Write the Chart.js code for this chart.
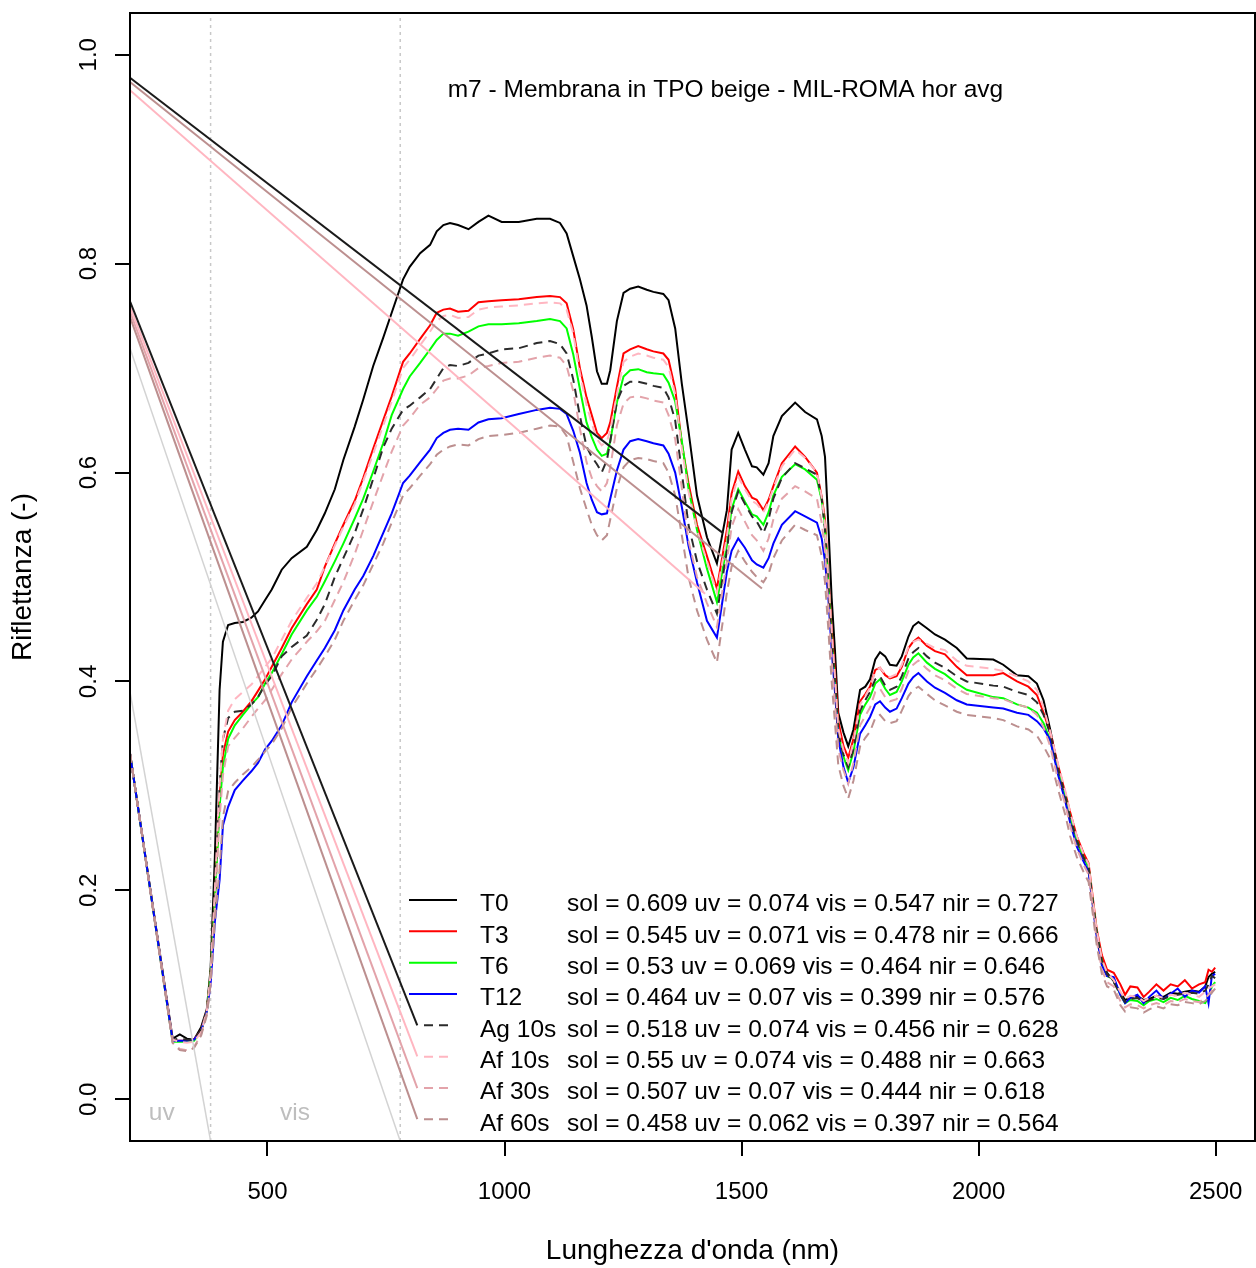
<!DOCTYPE html>
<html>
<head>
<meta charset="utf-8">
<title>m7 - Membrana in TPO beige</title>
<script src="https://cdn.jsdelivr.net/npm/chart.js@4.4.0/dist/chart.umd.min.js"></script>
<style>
  html, body { margin: 0; padding: 0; background: #fff; }
  #wrap { width: 1256px; height: 1268px; }
</style>
</head>
<body>
<div id="wrap"><canvas id="spectra" width="1256" height="1268"></canvas></div>
<script>
const FONT = '"Liberation Sans", Arial, Helvetica, sans-serif';

// wavelength grid (nm) shared by all curves
const wavelength = [
  210, 300, 315, 330, 345, 360, 372, 380, 389, 399,
  406, 417, 431, 448, 466, 480, 495, 509, 530, 551,
  583, 604, 621, 642, 660, 684, 702, 723, 744, 762,
  786, 800, 822, 843, 857, 871, 885, 902, 924, 945,
  966, 994, 1030, 1068, 1096, 1117, 1131, 1145, 1159, 1173,
  1184, 1195, 1205, 1216, 1223, 1237, 1251, 1265, 1282, 1300,
  1314, 1335, 1346, 1360, 1374, 1388, 1406, 1427, 1448, 1469,
  1479, 1493, 1507, 1522, 1532, 1546, 1557, 1567, 1585, 1613,
  1634, 1659, 1669, 1676, 1683, 1690, 1697, 1704, 1715, 1725,
  1736, 1750, 1761, 1771, 1782, 1792, 1803, 1813, 1827, 1838,
  1852, 1862, 1873, 1891, 1908, 1929, 1954, 1975, 2031, 2052,
  2081, 2105, 2123, 2137, 2151, 2168, 2183, 2193, 2207, 2221,
  2232, 2239, 2249, 2260, 2271, 2285, 2299, 2309, 2320, 2335,
  2348, 2360, 2375, 2390, 2405, 2420, 2435, 2450, 2465, 2478,
  2485, 2492, 2499
];

const t0 = [
  0.331, 0.058, 0.062, 0.058, 0.057, 0.069, 0.086, 0.125, 0.232, 0.392,
  0.438, 0.454, 0.456, 0.457, 0.461, 0.467, 0.478, 0.488, 0.507, 0.518,
  0.529, 0.545, 0.561, 0.584, 0.612, 0.644, 0.670, 0.702, 0.729, 0.753,
  0.785, 0.797, 0.810, 0.818, 0.831, 0.837, 0.839, 0.837, 0.833, 0.840,
  0.846, 0.840, 0.840, 0.843, 0.843, 0.839, 0.829, 0.807, 0.785, 0.760,
  0.730, 0.697, 0.685, 0.685, 0.698, 0.745, 0.772, 0.776, 0.778, 0.775,
  0.773, 0.771, 0.765, 0.738, 0.685, 0.640, 0.578, 0.538, 0.513, 0.564,
  0.622, 0.638, 0.622, 0.606, 0.605, 0.598, 0.609, 0.635, 0.654, 0.667,
  0.658, 0.651, 0.635, 0.615, 0.550, 0.480, 0.430, 0.370, 0.351, 0.338,
  0.354, 0.392, 0.395, 0.402, 0.421, 0.428, 0.424, 0.416, 0.415, 0.424,
  0.443, 0.453, 0.457, 0.451, 0.445, 0.440, 0.432, 0.422, 0.421, 0.416,
  0.406, 0.405, 0.398, 0.382, 0.354, 0.315, 0.290, 0.271, 0.248, 0.232,
  0.223, 0.194, 0.159, 0.134, 0.121, 0.113, 0.102, 0.095, 0.097, 0.099,
  0.095, 0.096, 0.099, 0.098, 0.102, 0.101, 0.103, 0.104, 0.103, 0.108,
  0.117, 0.120, 0.122
];

const t3 = [
  0.331, 0.056, 0.056, 0.056, 0.057, 0.066, 0.085, 0.120, 0.190, 0.290,
  0.330, 0.352, 0.363, 0.371, 0.381, 0.391, 0.402, 0.414, 0.432, 0.451,
  0.474, 0.488, 0.510, 0.532, 0.550, 0.573, 0.595, 0.623, 0.650, 0.673,
  0.706, 0.714, 0.728, 0.741, 0.753, 0.756, 0.757, 0.754, 0.755, 0.763,
  0.764, 0.765, 0.766, 0.768, 0.769, 0.768, 0.762, 0.737, 0.700, 0.672,
  0.655, 0.638, 0.633, 0.638, 0.648, 0.682, 0.714, 0.718, 0.721, 0.718,
  0.716, 0.714, 0.708, 0.680, 0.628, 0.590, 0.550, 0.520, 0.489, 0.545,
  0.580, 0.601, 0.587, 0.576, 0.574, 0.564, 0.574, 0.587, 0.609, 0.625,
  0.615, 0.600, 0.577, 0.555, 0.500, 0.450, 0.410, 0.362, 0.338, 0.327,
  0.345, 0.381, 0.388, 0.395, 0.411, 0.413, 0.406, 0.403, 0.405, 0.414,
  0.432, 0.438, 0.442, 0.434, 0.429, 0.426, 0.414, 0.406, 0.406, 0.408,
  0.400, 0.395, 0.387, 0.370, 0.351, 0.319, 0.293, 0.275, 0.252, 0.236,
  0.226, 0.200, 0.163, 0.138, 0.124, 0.121, 0.110, 0.100, 0.108, 0.107,
  0.098, 0.103, 0.110, 0.104, 0.110, 0.108, 0.114, 0.106, 0.110, 0.112,
  0.124, 0.122, 0.126
];

const t6 = [
  0.331, 0.055, 0.055, 0.055, 0.056, 0.065, 0.084, 0.120, 0.190, 0.280,
  0.318, 0.345, 0.358, 0.368, 0.378, 0.385, 0.398, 0.408, 0.426, 0.445,
  0.468, 0.481, 0.496, 0.515, 0.532, 0.556, 0.575, 0.601, 0.628, 0.655,
  0.680, 0.692, 0.705, 0.718, 0.727, 0.733, 0.733, 0.731, 0.735, 0.740,
  0.742, 0.742, 0.743, 0.745, 0.747, 0.745, 0.738, 0.713, 0.680, 0.648,
  0.634, 0.622, 0.616, 0.618, 0.630, 0.667, 0.692, 0.698, 0.699, 0.696,
  0.695, 0.694, 0.686, 0.668, 0.630, 0.585, 0.545, 0.508, 0.476, 0.530,
  0.565, 0.584, 0.572, 0.560, 0.558, 0.550, 0.562, 0.578, 0.596, 0.608,
  0.603, 0.593, 0.574, 0.548, 0.495, 0.440, 0.400, 0.350, 0.328, 0.315,
  0.333, 0.368, 0.378, 0.385, 0.398, 0.402, 0.393, 0.387, 0.390, 0.400,
  0.416, 0.423, 0.427, 0.418, 0.412, 0.407, 0.398, 0.392, 0.385, 0.384,
  0.378, 0.375, 0.370, 0.360, 0.344, 0.313, 0.290, 0.270, 0.248, 0.232,
  0.222, 0.196, 0.160, 0.132, 0.118, 0.115, 0.100, 0.092, 0.095, 0.094,
  0.090, 0.094, 0.096, 0.093, 0.097, 0.095, 0.099, 0.096, 0.094, 0.092,
  0.098, 0.108, 0.112
];

const t12 = [
  0.331, 0.056, 0.056, 0.056, 0.057, 0.065, 0.084, 0.110, 0.170, 0.210,
  0.262, 0.280, 0.296, 0.305, 0.314, 0.322, 0.335, 0.343, 0.358, 0.380,
  0.405, 0.420, 0.432, 0.449, 0.468, 0.488, 0.501, 0.520, 0.542, 0.561,
  0.590, 0.597, 0.610, 0.622, 0.633, 0.638, 0.641, 0.642, 0.641, 0.648,
  0.651, 0.652, 0.656, 0.660, 0.662, 0.661, 0.656, 0.640, 0.619, 0.590,
  0.574, 0.562, 0.560, 0.561, 0.575, 0.602, 0.622, 0.630, 0.632, 0.630,
  0.628, 0.626, 0.618, 0.600, 0.567, 0.530, 0.495, 0.458, 0.442, 0.505,
  0.525, 0.537, 0.528, 0.516, 0.512, 0.509, 0.518, 0.532, 0.550, 0.563,
  0.558, 0.552, 0.537, 0.515, 0.480, 0.430, 0.390, 0.345, 0.318, 0.303,
  0.318, 0.350, 0.358, 0.366, 0.378, 0.381, 0.375, 0.371, 0.374, 0.384,
  0.398, 0.404, 0.408, 0.400, 0.394, 0.389, 0.382, 0.378, 0.375, 0.374,
  0.370, 0.368, 0.362, 0.355, 0.344, 0.310, 0.285, 0.265, 0.242, 0.228,
  0.218, 0.192, 0.156, 0.128, 0.118, 0.117, 0.100, 0.092, 0.097, 0.100,
  0.092, 0.098, 0.104, 0.096, 0.101, 0.106, 0.098, 0.104, 0.102, 0.108,
  0.092, 0.118, 0.120
];

const ag10 = [
  0.331, 0.057, 0.058, 0.057, 0.057, 0.066, 0.085, 0.120, 0.190, 0.300,
  0.345, 0.365, 0.371, 0.372, 0.378, 0.385, 0.397, 0.405, 0.424, 0.433,
  0.444, 0.459, 0.474, 0.500, 0.518, 0.542, 0.565, 0.594, 0.624, 0.642,
  0.660, 0.664, 0.672, 0.680, 0.690, 0.700, 0.703, 0.702, 0.705, 0.712,
  0.714, 0.718, 0.719, 0.724, 0.726, 0.723, 0.714, 0.689, 0.654, 0.625,
  0.615, 0.608, 0.600, 0.612, 0.630, 0.668, 0.683, 0.687, 0.687, 0.685,
  0.683, 0.681, 0.672, 0.650, 0.600, 0.550, 0.515, 0.488, 0.465, 0.525,
  0.562, 0.582, 0.570, 0.558, 0.553, 0.542, 0.555, 0.575, 0.595, 0.609,
  0.604, 0.598, 0.575, 0.545, 0.490, 0.440, 0.400, 0.350, 0.330, 0.318,
  0.335, 0.372, 0.382, 0.390, 0.402, 0.405, 0.396, 0.392, 0.395, 0.405,
  0.422, 0.428, 0.432, 0.424, 0.418, 0.413, 0.405, 0.400, 0.396, 0.395,
  0.390, 0.387, 0.380, 0.368, 0.350, 0.316, 0.290, 0.270, 0.248, 0.232,
  0.222, 0.196, 0.160, 0.132, 0.120, 0.112, 0.100, 0.093, 0.096, 0.097,
  0.093, 0.095, 0.097, 0.096, 0.099, 0.100, 0.101, 0.102, 0.101, 0.104,
  0.110, 0.118, 0.116
];

const af10 = [
  0.331, 0.057, 0.055, 0.054, 0.055, 0.064, 0.084, 0.120, 0.200, 0.300,
  0.345, 0.372, 0.383, 0.390, 0.397, 0.405, 0.414, 0.422, 0.440, 0.458,
  0.480, 0.494, 0.510, 0.530, 0.548, 0.570, 0.592, 0.618, 0.645, 0.668,
  0.700, 0.708, 0.722, 0.735, 0.745, 0.750, 0.751, 0.748, 0.749, 0.756,
  0.758, 0.759, 0.760, 0.762, 0.763, 0.762, 0.756, 0.733, 0.695, 0.665,
  0.647, 0.632, 0.626, 0.630, 0.640, 0.675, 0.706, 0.711, 0.714, 0.712,
  0.710, 0.708, 0.701, 0.675, 0.623, 0.582, 0.545, 0.515, 0.485, 0.538,
  0.575, 0.596, 0.584, 0.573, 0.570, 0.562, 0.572, 0.585, 0.606, 0.622,
  0.614, 0.600, 0.576, 0.550, 0.498, 0.448, 0.405, 0.355, 0.334, 0.322,
  0.342, 0.378, 0.386, 0.394, 0.410, 0.413, 0.407, 0.404, 0.407, 0.416,
  0.433, 0.438, 0.440, 0.436, 0.432, 0.430, 0.420, 0.415, 0.412, 0.410,
  0.405, 0.400, 0.392, 0.375, 0.352, 0.320, 0.295, 0.275, 0.252, 0.235,
  0.225, 0.198, 0.162, 0.134, 0.121, 0.114, 0.103, 0.096, 0.099, 0.098,
  0.094, 0.097, 0.099, 0.097, 0.100, 0.099, 0.102, 0.100, 0.098, 0.103,
  0.106, 0.108, 0.110
];

const af30 = [
  0.331, 0.054, 0.048, 0.047, 0.050, 0.062, 0.082, 0.110, 0.180, 0.270,
  0.310, 0.338, 0.346, 0.355, 0.366, 0.374, 0.382, 0.392, 0.407, 0.421,
  0.438, 0.448, 0.458, 0.478, 0.495, 0.522, 0.545, 0.572, 0.598, 0.620,
  0.645, 0.652, 0.665, 0.672, 0.680, 0.688, 0.690, 0.690, 0.693, 0.700,
  0.702, 0.705, 0.706, 0.710, 0.712, 0.710, 0.702, 0.678, 0.642, 0.610,
  0.595, 0.587, 0.582, 0.590, 0.605, 0.645, 0.666, 0.672, 0.673, 0.671,
  0.669, 0.667, 0.655, 0.632, 0.585, 0.535, 0.500, 0.475, 0.452, 0.515,
  0.548, 0.565, 0.553, 0.540, 0.535, 0.525, 0.537, 0.555, 0.575, 0.587,
  0.582, 0.575, 0.552, 0.525, 0.470, 0.420, 0.380, 0.335, 0.315, 0.302,
  0.322, 0.358, 0.367, 0.375, 0.390, 0.393, 0.385, 0.381, 0.383, 0.393,
  0.410, 0.416, 0.420, 0.412, 0.406, 0.401, 0.393, 0.388, 0.384, 0.383,
  0.378, 0.375, 0.368, 0.356, 0.338, 0.305, 0.282, 0.262, 0.240, 0.225,
  0.215, 0.190, 0.152, 0.124, 0.112, 0.108, 0.094, 0.088, 0.091, 0.090,
  0.087, 0.090, 0.092, 0.090, 0.094, 0.093, 0.096, 0.094, 0.093, 0.097,
  0.100, 0.104, 0.108
];

const af60 = [
  0.331, 0.054, 0.047, 0.046, 0.049, 0.061, 0.080, 0.110, 0.170, 0.220,
  0.270, 0.295, 0.303, 0.311, 0.318, 0.325, 0.333, 0.340, 0.355, 0.375,
  0.398, 0.412, 0.424, 0.440, 0.458, 0.478, 0.492, 0.512, 0.532, 0.552,
  0.578, 0.585, 0.597, 0.608, 0.617, 0.622, 0.625, 0.627, 0.626, 0.632,
  0.635, 0.636, 0.638, 0.642, 0.645, 0.644, 0.635, 0.610, 0.585, 0.565,
  0.550, 0.540, 0.535, 0.540, 0.555, 0.585, 0.605, 0.612, 0.614, 0.613,
  0.611, 0.609, 0.600, 0.578, 0.540, 0.500, 0.468, 0.440, 0.418, 0.485,
  0.510, 0.525, 0.515, 0.505, 0.500, 0.495, 0.503, 0.518, 0.535, 0.550,
  0.545, 0.540, 0.520, 0.495, 0.450, 0.400, 0.360, 0.320, 0.300, 0.288,
  0.305, 0.338, 0.346, 0.352, 0.365, 0.368, 0.362, 0.360, 0.362, 0.372,
  0.386, 0.392, 0.395, 0.388, 0.382, 0.377, 0.371, 0.368, 0.365, 0.363,
  0.357, 0.354, 0.348, 0.338, 0.326, 0.296, 0.272, 0.252, 0.232, 0.218,
  0.208, 0.184, 0.148, 0.120, 0.108, 0.105, 0.090, 0.084, 0.088, 0.087,
  0.083, 0.086, 0.089, 0.087, 0.091, 0.090, 0.093, 0.092, 0.091, 0.094,
  0.097, 0.102, 0.106
];

const seriesNames = ['T0', 'T3', 'T6', 'T12', 'Ag 10s', 'Af 10s', 'Af 30s', 'Af 60s'];
const seriesValues = [t0, t3, t6, t12, ag10, af10, af30, af60];
const seriesColors = ['#000000', '#ff0000', '#00ff00', '#0000ff', '#2b2b2b', '#ffb6c1', '#e3a3aa', '#bc8f8f'];
const seriesDashed = [false, false, false, false, true, true, true, true];

// integrated values shown in the legend
const solValues = [0.609, 0.545, 0.53, 0.464, 0.518, 0.55, 0.507, 0.458];
const uvValues  = [0.074, 0.071, 0.069, 0.07, 0.074, 0.074, 0.07, 0.062];
const visValues = [0.547, 0.478, 0.464, 0.399, 0.456, 0.488, 0.444, 0.397];
const nirValues = [0.727, 0.666, 0.646, 0.576, 0.628, 0.663, 0.618, 0.564];

// straight stray segments that cross the plot (start / end in data units)
const strayStartX = [210, 210, 210, 210, 210, 210, 210, 210, 210];
const strayStartY = [0.978, 0.974, 0.966, 0.764, 0.759, 0.754, 0.749, 0.719, 0.390];
const strayEndX   = [1461, 1543, 1423, 816, 816, 816, 816, 780, 380];
const strayEndY   = [0.542, 0.489, 0.484, 0.0707, 0.041, 0.0107, -0.019, -0.04, -0.04];
const strayColors = ['#1a1a1a', '#bc8f8f', '#ffb6c1', '#1a1a1a', '#ffb6c1', '#e3a3aa', '#bc8f8f', '#d3d3d3', '#d3d3d3'];

const bandEdges = [380, 780];
const bandLabels = ['uv', 'vis'];
const bandLabelX = [277, 558];
const bandLabelY = -0.013;

const xTicks = [500, 1000, 1500, 2000, 2500];
const yTicks = [0, 0.2, 0.4, 0.6, 0.8, 1.0];
const xRange = [210, 2583];
const yRange = [-0.04, 1.04];

const plotTitle = 'm7 - Membrana in TPO beige - MIL-ROMA hor avg';
const titleAt = [1466, 0.9665];

function buildDatasets() {
    const sets = [];

    bandEdges.forEach(edge => {
        sets.push({
            data: [{ x: edge, y: yRange[0] }, { x: edge, y: yRange[1] }],
            borderColor: '#c8c8c8', borderWidth: 1.5, borderDash: [3, 4],
            pointRadius: 0, order: 30
        });
    });

    seriesValues.forEach((vals, i) => {
        sets.push({
            label: seriesNames[i],
            data: wavelength.map((w, k) => ({ x: w, y: vals[k] })),
            borderColor: seriesColors[i],
            borderWidth: 2,
            borderDash: seriesDashed[i] ? [9, 6] : [],
            pointRadius: 0,
            tension: 0,
            order: 20 - i
        });
    });

    strayStartX.forEach((x0, i) => {
        sets.push({
            data: [{ x: x0, y: strayStartY[i] }, { x: strayEndX[i], y: strayEndY[i] }],
            borderColor: strayColors[i],
            borderWidth: i >= 7 ? 1.5 : 2,
            pointRadius: 0,
            order: 5
        });
    });
    return sets;
}

// box, band labels, title and the legend block
const decorations = {
    id: 'decorations',
    afterDatasetsDraw(chart) {
        const { ctx, chartArea: a, scales: { x, y } } = chart;
        ctx.save();

        ctx.strokeStyle = '#000';
        ctx.lineWidth = 2;
        ctx.strokeRect(a.left, a.top, a.right - a.left, a.bottom - a.top);

        ctx.font = `24.5px ${FONT}`;
        ctx.textAlign = 'center';
        ctx.textBaseline = 'middle';
        ctx.fillStyle = '#bebebe';
        bandLabels.forEach((t, i) => {
            ctx.fillText(t, x.getPixelForValue(bandLabelX[i]), y.getPixelForValue(bandLabelY));
        });

        ctx.fillStyle = '#000';
        ctx.fillText(plotTitle, x.getPixelForValue(titleAt[0]), y.getPixelForValue(titleAt[1]));

        const rowY0 = 900, rowStep = 31.33;
        ctx.textAlign = 'left';
        seriesNames.forEach((name, i) => {
            const ry = rowY0 + i * rowStep;
            ctx.strokeStyle = seriesColors[i];
            ctx.lineWidth = 2;
            ctx.beginPath();
            if (seriesDashed[i]) {
                ctx.setLineDash([9, 6]);
                ctx.moveTo(424, ry);
                ctx.lineTo(448, ry);
            } else {
                ctx.setLineDash([]);
                ctx.moveTo(409, ry);
                ctx.lineTo(457, ry);
            }
            ctx.stroke();
            ctx.setLineDash([]);

            ctx.fillStyle = '#000';
            ctx.fillText(name, 480, ry + 4.5);
            const stats = `sol = ${solValues[i]} uv = ${uvValues[i]} vis = ${visValues[i]} nir = ${nirValues[i]}`;
            ctx.fillText(stats, 567, ry + 4.5);
        });
        ctx.restore();
    }
};

function noOverhang(s) {
    s.paddingLeft = 0;
    s.paddingRight = 0;
    s.paddingTop = 0;
    s.paddingBottom = 0;
}

new Chart(document.getElementById('spectra'), {
    type: 'line',
    data: { datasets: buildDatasets() },
    options: {
        responsive: false,
        animation: false,
        devicePixelRatio: 1,
        layout: { padding: { top: 13, right: 1, left: 0, bottom: 0 } },
        plugins: { legend: { display: false }, tooltip: { enabled: false } },
        scales: {
            x: {
                type: 'linear',
                min: xRange[0], max: xRange[1],
                afterBuildTicks: s => { s.ticks = xTicks.map(v => ({ value: v })); },
                afterFit: s => { s.height = 127; noOverhang(s); },
                border: { display: false },
                grid: { drawOnChartArea: false, drawTicks: true, tickLength: 15, color: '#000', lineWidth: 2 },
                ticks: { color: '#000', font: { family: FONT, size: 24 }, padding: 22, maxRotation: 0, autoSkip: false, callback: v => String(v) },
                title: { display: true, text: "Lunghezza d'onda (nm)", color: '#000', font: { family: FONT, size: 28 }, padding: { top: 0, bottom: 0 } }
            },
            y: {
                type: 'linear',
                min: yRange[0], max: yRange[1],
                afterBuildTicks: s => { s.ticks = yTicks.map(v => ({ value: v })); },
                afterFit: s => { s.width = 130; noOverhang(s); },
                border: { display: false },
                grid: { drawOnChartArea: false, drawTicks: true, tickLength: 15, color: '#000', lineWidth: 2 },
                ticks: {
                    color: '#000', font: { family: FONT, size: 24 }, padding: 9,
                    minRotation: 90, maxRotation: 90, crossAlign: 'center',
                    callback: v => v.toFixed(1)
                },
                title: { display: true, text: 'Riflettanza (-)', color: '#000', font: { family: FONT, size: 28 }, padding: { top: 6, bottom: 0 } }
            }
        }
    },
    plugins: [decorations]
});
</script>
</body>
</html>
